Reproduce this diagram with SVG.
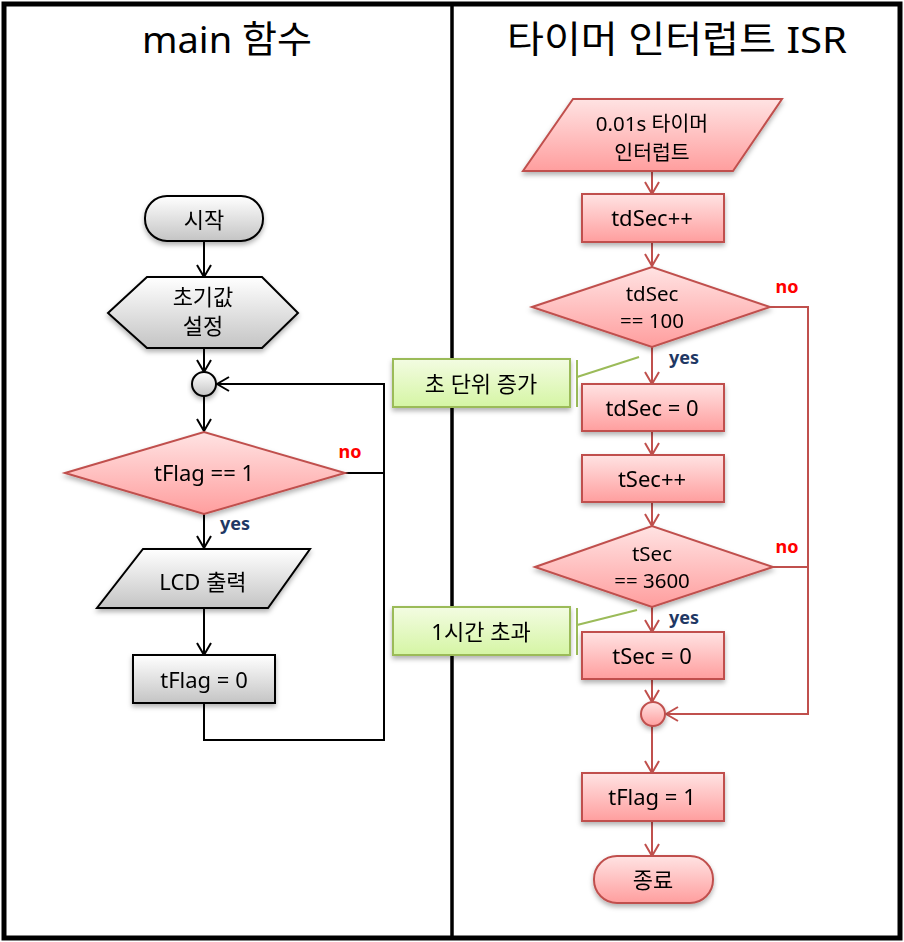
<svg xmlns="http://www.w3.org/2000/svg" width="904" height="942" viewBox="0 0 904 942">
<defs>
<linearGradient id="gGray" x1="0" y1="0" x2="0" y2="1"><stop offset="0" stop-color="#ffffff"/><stop offset="1" stop-color="#c4c4c4"/></linearGradient>
<linearGradient id="gRed" x1="0" y1="0" x2="0" y2="1"><stop offset="0" stop-color="#ffe3e3"/><stop offset="1" stop-color="#ff9e9e"/></linearGradient>
<linearGradient id="gGreen" x1="0" y1="0" x2="0" y2="1"><stop offset="0" stop-color="#f3fce2"/><stop offset="1" stop-color="#d5f5a4"/></linearGradient>
<filter id="sh" x="-20%" y="-20%" width="140%" height="150%"><feDropShadow dx="0" dy="3" stdDeviation="2.5" flood-color="#000" flood-opacity="0.3"/></filter>
<marker id="aK" markerUnits="userSpaceOnUse" markerWidth="14" markerHeight="16" viewBox="0 0 14 16" refX="13" refY="8" orient="auto"><path d="M1,1 L13,8 L1,15" fill="none" stroke="#000" stroke-width="2"/></marker>
<marker id="aR" markerUnits="userSpaceOnUse" markerWidth="14" markerHeight="16" viewBox="0 0 14 16" refX="13" refY="8" orient="auto"><path d="M1,1 L13,8 L1,15" fill="none" stroke="#c0504d" stroke-width="2"/></marker>
</defs>
<style>
text{font-family:"Noto Sans","Noto Sans CJK KR",sans-serif;text-anchor:middle;fill:#000}
.t{font-size:22px}
.t2{font-size:20.5px}
.title{font-size:37px}
.gray{fill:url(#gGray);stroke:#000;stroke-width:2}
.red{fill:url(#gRed);stroke:#c0504d;stroke-width:2}
.green{fill:url(#gGreen);stroke:#9bbb59;stroke-width:2}
.ck{fill:none;stroke:#000;stroke-width:2}
.cr{fill:none;stroke:#c0504d;stroke-width:2}
.cg{fill:none;stroke:#9bbb59;stroke-width:2}
.no{font-size:18px;font-weight:bold;fill:#ff0000}
.yes{font-size:18px;font-weight:bold;fill:#1f3864}
</style>
<rect width="904" height="942" fill="#fff"/>
<g id="frame">
<rect x="4" y="4" width="896" height="934" fill="none" stroke="#000" stroke-width="5"/>
<line x1="452" y1="4" x2="452" y2="938" stroke="#000" stroke-width="3.5"/>
<text class="title" x="227" y="53" textLength="170" lengthAdjust="spacingAndGlyphs">main 함수</text>
<text class="title" x="677" y="53" textLength="340" lengthAdjust="spacingAndGlyphs">타이머 인터럽트 ISR</text>
</g>
<g id="connectors">
<line class="ck" x1="204" y1="241" x2="204" y2="277" marker-end="url(#aK)"/>
<line class="ck" x1="204" y1="348" x2="204" y2="372" marker-end="url(#aK)"/>
<line class="ck" x1="204" y1="396" x2="204" y2="431" marker-end="url(#aK)"/>
<line class="ck" x1="204" y1="514" x2="204" y2="548" marker-end="url(#aK)"/>
<line class="ck" x1="204" y1="608" x2="204" y2="655" marker-end="url(#aK)"/>
<polyline class="ck" points="345,473 384,473"/>
<polyline class="ck" points="204,703 204,740 384,740 384,384 217,384" marker-end="url(#aK)"/>
<line class="cr" x1="652" y1="171" x2="652" y2="194" marker-end="url(#aR)"/>
<line class="cr" x1="652" y1="242" x2="652" y2="266" marker-end="url(#aR)"/>
<line class="cr" x1="652" y1="347" x2="652" y2="384" marker-end="url(#aR)"/>
<line class="cr" x1="652" y1="431" x2="652" y2="455" marker-end="url(#aR)"/>
<line class="cr" x1="652" y1="502" x2="652" y2="526" marker-end="url(#aR)"/>
<line class="cr" x1="652" y1="607" x2="652" y2="632" marker-end="url(#aR)"/>
<line class="cr" x1="652" y1="679" x2="652" y2="702" marker-end="url(#aR)"/>
<line class="cr" x1="652" y1="726" x2="652" y2="773" marker-end="url(#aR)"/>
<line class="cr" x1="652" y1="821" x2="652" y2="856" marker-end="url(#aR)"/>
<polyline class="cr" points="770,307 808,307 808,714 666,714" marker-end="url(#aR)"/>
<polyline class="cr" points="773,567 808,567"/>
<text class="no" x="350" y="458">no</text>
<text class="yes" x="235" y="530">yes</text>
<text class="no" x="787" y="293">no</text>
<text class="yes" x="684" y="364">yes</text>
<text class="no" x="787" y="553">no</text>
<text class="yes" x="684" y="624">yes</text>
</g>
<g id="start" filter="url(#sh)"><rect class="gray" x="145" y="196" width="118" height="45" rx="22"/><text class="t" x="204" y="228">시작</text></g>
<g id="init" filter="url(#sh)"><polygon class="gray" points="108,313 147,277 262,277 298,313 262,348 147,348"/><text class="t" x="203" y="305">초기값</text><text class="t" x="203" y="334">설정</text></g>
<g id="join1" filter="url(#sh)"><circle class="gray" cx="204" cy="384" r="12"/></g>
<g id="cond1" filter="url(#sh)"><polygon class="red" points="65,473 204,432 345,473 204,514"/><text class="t" x="204" y="481">tFlag == 1</text></g>
<g id="lcd" filter="url(#sh)"><polygon class="gray" points="143,549 310,549 268,608 97,608"/><text class="t" x="203" y="590">LCD 출력</text></g>
<g id="clr" filter="url(#sh)"><rect class="gray" x="133" y="655" width="142" height="48"/><text class="t" x="204" y="688">tFlag = 0</text></g>
<g id="isr" filter="url(#sh)"><polygon class="red" points="573,99 782,99 733,171 523,171"/><text class="t2" x="652" y="131">0.01s 타이머</text><text class="t2" x="652" y="160">인터럽트</text></g>
<g id="inc1" filter="url(#sh)"><rect class="red" x="582" y="194" width="142" height="48"/><text class="t" x="652" y="226">tdSec++</text></g>
<g id="cond2" filter="url(#sh)"><polygon class="red" points="532,307 652,267 770,307 652,347"/><text class="t2" x="652" y="301">tdSec</text><text class="t2" x="652" y="328">== 100</text></g>
<g id="note1" filter="url(#sh)"><rect class="green" x="393" y="359" width="177" height="48"/><text class="t" x="481" y="392">초 단위 증가</text></g>
<g id="note1link"><line class="cg" x1="577" y1="360" x2="577" y2="407"/><line class="cg" x1="577" y1="377" x2="639" y2="357"/></g>
<g id="rst1" filter="url(#sh)"><rect class="red" x="582" y="384" width="142" height="47"/><text class="t" x="652" y="416">tdSec = 0</text></g>
<g id="inc2" filter="url(#sh)"><rect class="red" x="582" y="455" width="142" height="47"/><text class="t" x="652" y="487">tSec++</text></g>
<g id="cond3" filter="url(#sh)"><polygon class="red" points="535,567 652,526 773,567 652,607"/><text class="t2" x="652" y="561">tSec</text><text class="t2" x="652" y="588">== 3600</text></g>
<g id="note2" filter="url(#sh)"><rect class="green" x="393" y="607" width="177" height="48"/><text class="t" x="481" y="640">1시간 초과</text></g>
<g id="note2link"><line class="cg" x1="577" y1="608" x2="577" y2="655"/><line class="cg" x1="577" y1="625" x2="637" y2="610"/></g>
<g id="rst2" filter="url(#sh)"><rect class="red" x="582" y="632" width="142" height="47"/><text class="t" x="652" y="664">tSec = 0</text></g>
<g id="join2" filter="url(#sh)"><circle class="red" cx="653" cy="714" r="12"/></g>
<g id="set" filter="url(#sh)"><rect class="red" x="582" y="773" width="142" height="48"/><text class="t" x="652" y="805">tFlag = 1</text></g>
<g id="end" filter="url(#sh)"><rect class="red" x="594" y="856" width="119" height="47" rx="23"/><text class="t" x="653" y="888">종료</text></g>
</svg>
